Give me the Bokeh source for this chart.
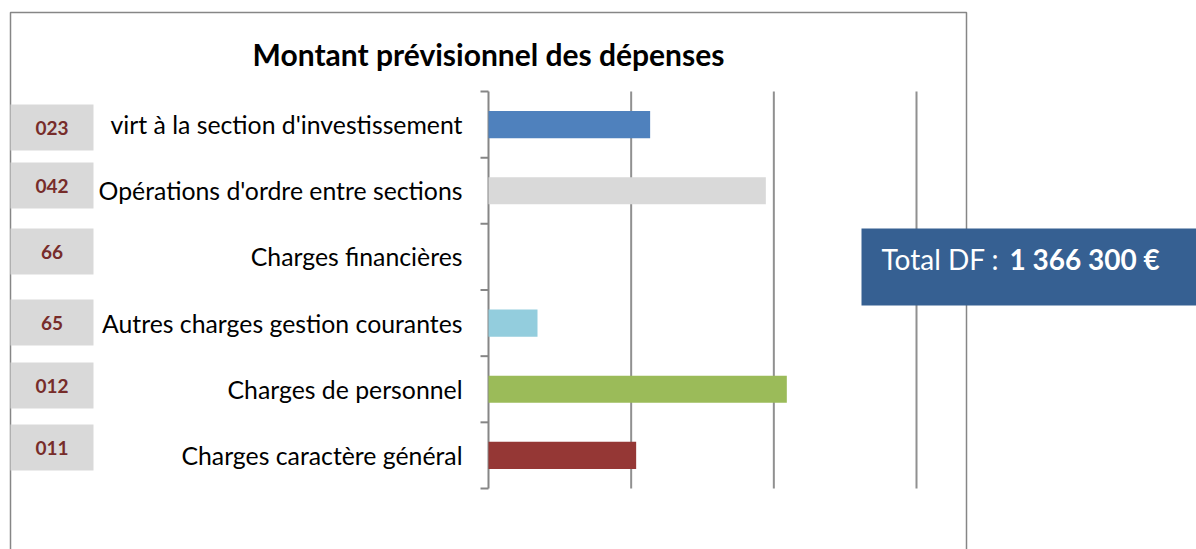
from bokeh.plotting import figure
from bokeh.models import Range1d, ColumnDataSource
from bokeh.core.properties import value
from bokeh.embed import file_html
from bokeh.resources import INLINE

# ---- data (bottom to top) ----
codes = ["011", "012", "65", "66", "042", "023"]
categories = ["Charges caractère général", "Charges de personnel",
              "Autres charges gestion courantes", "Charges financières",
              "Opérations d'ordre entre sections", "virt à la section d'investissement"]
values = [207000, 418200, 68700, 0, 388800, 226600]
colors = ["#953735", "#9BBB59", "#93CDDD", "#F79646", "#D9D9D9", "#4F81BD"]
grid_ticks = [200000, 400000, 600000]
title_text = "Montant prévisionnel des dépenses"
total_label = "Total DF : "
total_value = "1 366 300 €"

FONT = value("Lato")
n = len(categories)
centers = [i + 0.5 for i in range(n)]
bounds = list(range(n + 1))

# ---- layout helpers (canvas pixel -> data) ----
W, H = 1196, 549
FRAME_L, FRAME_R, FRAME_T, FRAME_B = 488, 916, 91, 488
X_MAX = 600000
def px(cx):
    return (cx - FRAME_L) * X_MAX / (FRAME_R - FRAME_L)
def py(cy):
    return (FRAME_B - cy) * n / (FRAME_B - FRAME_T)

p = figure(width=W, height=H, output_backend="svg", toolbar_location=None,
           x_range=Range1d(px(0), px(W)), y_range=Range1d(py(H), py(0)),
           x_axis_location=None, y_axis_location=None, title=None,
           min_border=0)
p.outline_line_color = None
p.background_fill_color = "white"
p.border_fill_color = "white"
for g in list(p.grid):
    g.visible = False

AX = "#868686"

# outer chart border
p.quad(left=px(10), right=px(966), top=py(12), bottom=py(620),
       fill_color=None, line_color=AX, line_width=1.5)

# gridlines
p.segment(x0=grid_ticks, x1=grid_ticks, y0=0, y1=n, line_color="#909090", line_width=2)

# value axis baseline and boundary ticks
p.segment(x0=0, x1=0, y0=0, y1=n, line_color=AX, line_width=2)
p.segment(x0=[px(FRAME_L - 8)] * len(bounds), x1=[0] * len(bounds), y0=bounds, y1=bounds,
          line_color=AX, line_width=2)

# category labels
p.text(x=[0] * n, y=centers, text=categories, x_offset=-26, text_align="right",
       text_baseline="middle", text_font=FONT, text_font_size="24.8px", text_color="black")

# bars
src = ColumnDataSource(dict(y=centers, val=values, color=colors))
p.hbar(y="y", left=0, right="val", height=0.41, fill_color="color",
       line_color=None, source=src)

# code boxes
box_tops = [424, 362, 299, 228, 162, 104]
box_mid = [py(t + 23) for t in box_tops]
p.rect(x=[px(51.5)] * n, y=box_mid, width=px(93) - px(10), height=py(0) - py(46),
       fill_color="#D9D9D9", line_color=None)
p.text(x=[px(51.5)] * n, y=box_mid, text=codes, text_align="center",
       text_baseline="middle", text_font=FONT, text_font_style="bold",
       text_font_size="19px", text_color="#772C2A")

# title
p.text(x=[0], y=[py(53)], text=[title_text], text_align="center",
       text_baseline="middle", text_font=FONT, text_font_style="bold",
       text_font_size="30px", text_color="black")

# total box
p.quad(left=px(861), right=px(W + 20), top=py(228), bottom=py(305),
       fill_color="#366092", line_color=None)
p.text(x=[px(881)], y=[py(258)], text=[total_label], text_align="left",
       text_baseline="middle", text_font=FONT, text_font_size="28px", text_color="white")
p.text(x=[px(1009)], y=[py(258)], text=[total_value], text_align="left",
       text_baseline="middle", text_font=FONT, text_font_style="bold",
       text_font_size="28px", text_color="white")

open("out.html", "w").write(file_html(p, INLINE))
